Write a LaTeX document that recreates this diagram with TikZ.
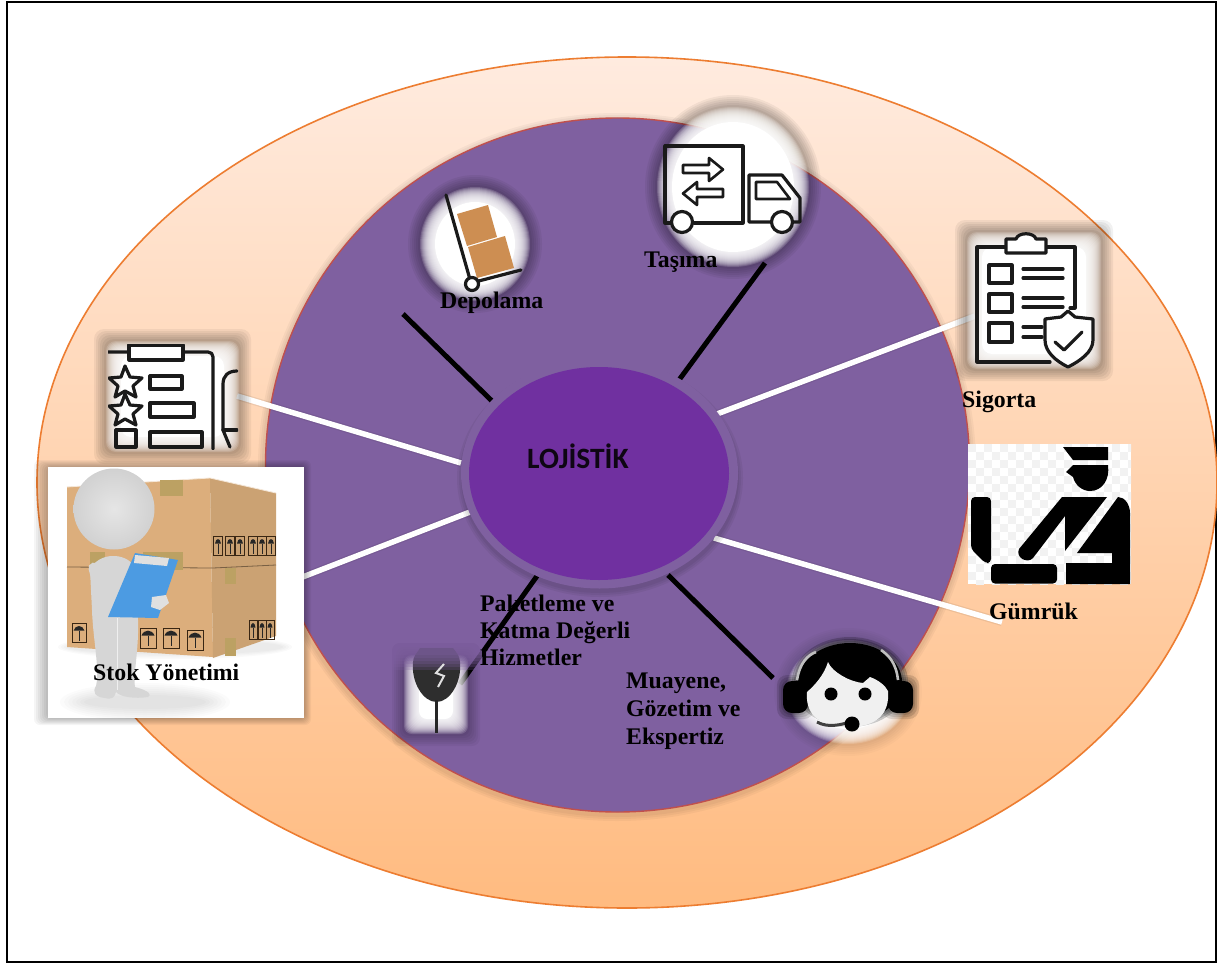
\documentclass[tikz,border=0pt]{standalone}
\usepackage{fontspec}
\setmainfont{Liberation Serif}
\newfontfamily\carl{Carlito}
\usetikzlibrary{shapes.geometric}
\definecolor{outerC}{HTML}{ED7D31}
\definecolor{outerT}{HTML}{FFEBDF}
\definecolor{outerB}{HTML}{FFBB80}
\definecolor{innerF}{HTML}{7F60A0}
\definecolor{innerD}{HTML}{C0504D}
\definecolor{hubF}{HTML}{7030A0}
\definecolor{boxF}{HTML}{DCAE7C}
\definecolor{boxR}{HTML}{CBA273}
\definecolor{tapeC}{HTML}{BCA163}
\definecolor{cargo}{HTML}{CD8E52}
\definecolor{ink}{HTML}{1A1A1A}
\definecolor{bluepad}{HTML}{4C9BE2}
\definecolor{manC}{HTML}{D6D6D6}
\tikzset{
  lab/.style={font=\bfseries\fontsize{23.8}{27}\selectfont,text=black,inner sep=0pt,anchor=base west,align=left},
  blackline/.style={draw=black,line width=5pt},
  whiteline/.style={draw=white,line width=5.5pt},
  shadeline/.style={draw=black,opacity=.07,line width=8pt},
  icon/.style={draw=ink,line width=3.2pt,line join=round,line cap=round},
  thin icon/.style={draw=ink,line width=2.6pt,line join=round},
}
% soft-edged white patches with a dark halo
\newcommand{\softbox}[6]{%
  \foreach \k in {12,10,...,2}{\fill[black,opacity=#5,rounded corners=#6pt] (#1-\k,#2-\k) rectangle (#3+\k,#4+\k);}
  \foreach \k in {0,...,16}{\fill[white,opacity=.16,rounded corners=#6pt] (#1+\k,#2+\k) rectangle (#3-\k,#4-\k);}
  \fill[white,rounded corners=#6pt] (#1+15,#2+15) rectangle (#3-15,#4-15);
}
\newcommand{\softell}[5]{%
  \foreach \k in {12,10,...,2}{\fill[black,opacity=#5] (#1,#2) ellipse [x radius=#3+\k,y radius=#4+\k];}
  \foreach \k in {0,...,16}{\fill[white,opacity=.16] (#1,#2) ellipse [x radius=#3-\k,y radius=#4-\k];}
  \fill[white] (#1,#2) ellipse [x radius=#3-15,y radius=#4-15];
}
% cargo pictograms on the cartons
\newcommand{\picto}[4]{% x y w h
  \draw[black!70!brown,line width=.6pt] (#1-#3/2,#2-#4/2) rectangle (#1+#3/2,#2+#4/2);
  \fill[black!85] (#1-#3/2+1.5,#2-#4/8) .. controls (#1-#3/4,#2-#4/2+1) and (#1+#3/4,#2-#4/2+1) .. (#1+#3/2-1.5,#2-#4/8) -- cycle;
  \draw[black!85,line width=.8pt] (#1,#2-#4/8) -- (#1,#2+#4/2-2);
}
\begin{document}
\begin{tikzpicture}[x=1pt,y=-1pt]
\useasboundingbox (0,0) rectangle (1217,963);
\fill[white] (0,0) rectangle (1217,963);
\draw[black,line width=2pt] (7,2) rectangle (1216,962);

% --- ellipses
\node[ellipse,draw=outerC,line width=1.6pt,top color=outerT,bottom color=outerB,
      minimum width=1180pt,minimum height=851pt,inner sep=0pt] (outerel) at (627,482.5) {};
\foreach \k in {7,5,3}{\fill[black,opacity=.035] (617,467) ellipse [x radius=352+\k,y radius=347+\k];}
\node[ellipse,draw=innerD,line width=1.4pt,fill=innerF,
      minimum width=704pt,minimum height=694pt,inner sep=0pt] (innerel) at (617.5,465) {};

% --- connector ends
\coordinate (d1) at (403,314);  \coordinate (d2) at (492,401);
\coordinate (t1) at (765,263);  \coordinate (t2) at (679,380);
\coordinate (s1) at (975,316);  \coordinate (s2) at (717,414);
\coordinate (r1) at (237,396);  \coordinate (r2) at (461,463);
\coordinate (k1) at (300,578);  \coordinate (k2) at (470,512);
\coordinate (g1) at (1002,622); \coordinate (g2) at (714,538);
\coordinate (m1) at (773,678);  \coordinate (m2) at (668,575);
\coordinate (p1) at (460,684);  \coordinate (p2) at (537,576);

% --- truck
\softell{733}{187}{76}{80}{.05}
\draw[icon] (684,223) -- (665,223) -- (665,146) -- (743,146) -- (743,223) -- (694,223);
\draw[icon] (772,222) -- (749,222) -- (749,175) -- (782,175) -- (800,198) -- (800,222) -- (793,222);
\draw[thin icon] (756,182) -- (777,182) -- (790,199) -- (756,199) -- cycle;
\draw[icon,fill=white] (682,222) circle [radius=10.5];
\draw[icon,fill=white] (782,222) circle [radius=10.5];
\draw[thin icon] (683,165) -- (709,165) -- (709,158) -- (723,169.5) -- (709,181) -- (709,173) -- (683,173) -- cycle;
\draw[thin icon] (723,189) -- (697,189) -- (697,182) -- (683,193.5) -- (697,205) -- (697,197) -- (723,197) -- cycle;

% --- hand truck
\softell{475}{244}{55}{57}{.05}
\fill[cargo] (457,214) -- (488,205) -- (497,237) -- (467,246) -- cycle;
\fill[cargo] (468,247) -- (505,236) -- (514,268) -- (477,278) -- cycle;
\draw[icon] (446,195) -- (471,283) -- (521,270);
\draw[icon,fill=white] (472,284) circle [radius=6.5];

% --- connectors
\path[shadeline] (r1) -- (r2); \path[shadeline] (k1) -- (k2); \path[shadeline] (s1) -- (s2); \path[shadeline] (g1) -- (g2);
\path[whiteline] (r1) -- (r2);
\path[whiteline] (k1) -- (k2);
\path[whiteline] (s1) -- (s2);
\path[whiteline] (g1) -- (g2);
\path[blackline] (d1) -- (d2);
\path[blackline] (t1) -- (t2);
\path[blackline] (m1) -- (m2);
\path[blackline] (p1) -- (p2);

% --- hub
\foreach \k in {6,4,2}{\fill[black,opacity=.05] (600,478) ellipse [x radius=137+\k,y radius=113+\k];}
\node[ellipse,fill=innerF,minimum width=277pt,minimum height=231pt,inner sep=0pt] (ring) at (599.5,473) {};
\node[ellipse,fill=hubF,minimum width=260pt,minimum height=213pt,inner sep=0pt] (hub) at (599,473.5) {};
\node[inner sep=0pt,anchor=base west,font=\carl\bfseries\fontsize{29.5}{32}\selectfont,text=black!88!hubF] (hublab) at (527,468) {LOJİSTİK};

% --- rating clipboard
\softbox{106}{341}{239}{452}{.05}{10}
\begin{scope}
\clip (108,344) rectangle (238,449);
\draw[icon] (108,352) -- (208,352) .. controls (211,352) and (213,354) .. (213,357) -- (213,449);
\draw[icon,fill=white] (129,345) rectangle (183,360);
\draw[icon] (125,366) -- (130,377) -- (142,378) -- (133,386) -- (136,397) -- (125,391) -- (115,397) -- (118,386) -- (109,378) -- (121,377) -- cycle;
\draw[icon] (125,394) -- (130,405) -- (142,406) -- (133,414) -- (136,425) -- (125,419) -- (115,425) -- (118,414) -- (109,406) -- (121,405) -- cycle;
\draw[icon] (150,376) rectangle (182,389);
\draw[icon] (150,403) rectangle (194,417);
\draw[icon] (150,432) rectangle (202,447);
\draw[icon] (116,430) rectangle (136,447);
\draw[icon] (237,371) .. controls (228,371) and (223,376) .. (223,384) -- (223,430) -- (230,447);
\draw[icon] (223,430) -- (237,430);
\end{scope}

% --- stock picture
\foreach \k in {14,12,...,2}{\fill[black,opacity=.04,rounded corners=6pt] (48-\k,467-\k/2) rectangle (304+\k/2,718+\k/2);}
\node[fill=white,minimum width=256pt,minimum height=251pt,inner sep=0pt] (stockpic) at (176,592.5) {};
\begin{scope}
\clip (48,467) rectangle (304,718);
\foreach \k in {30,26,...,6}{\fill[black,opacity=.014] (145,702) ellipse [x radius=55+\k,y radius=4+\k/2];}
\foreach \k in {12,9,6,3}{\fill[black,opacity=.02] (175,647) ellipse [x radius=105+\k,y radius=6+\k/2];}
\fill[boxF] (67,487) -- (210,478) -- (213,657) -- (67,647) -- cycle;
\fill[boxR] (210,478) -- (276,493) -- (276,636) -- (213,658) -- cycle;
\draw[black!45!boxF,line width=.8pt] (67,567) -- (213,568) -- (276,565);
\draw[white!70!boxF,line width=.8pt] (67,487) -- (210,478) -- (276,493);
\fill[tapeC] (160,480) rectangle (183,496);
\fill[tapeC] (225,568) rectangle (236,584);
\fill[tapeC] (225,638) rectangle (236,656);
\fill[tapeC] (143,552) rectangle (183,570);
\fill[tapeC] (90,552) rectangle (105,570);
\foreach \px in {218,230,240,253,262,271}{\picto{\px}{546}{9}{19}}
\foreach \px in {253,262,270}{\picto{\px}{630}{8}{19}}
\picto{79}{633}{14}{19}
\picto{148}{638}{16}{20}
\picto{171}{638}{16}{20}
\picto{195}{640}{16}{20}
% figure
\fill[manC] (90,570) .. controls (98,552) and (125,552) .. (134,566) -- (138,620)
   .. controls (139,650) and (133,675) .. (135,687) .. controls (150,691) and (152,695) .. (148,697)
   .. controls (135,699) and (120,697) .. (116,692) .. controls (115,697) and (112,700) .. (105,698)
   .. controls (95,697) and (92,692) .. (96,686) .. controls (100,670) and (93,640) .. (92,610) -- cycle;
\draw[white!60!manC,line width=1pt] (117,618) -- (117,690);
\draw[manC,line width=11pt,line cap=round] (94,568) -- (98,583) -- (118,577);
\shade[inner color=white!90!black,outer color=black!18] (114,509) circle [radius=40.5];
\fill[bluepad] (135,553) -- (178,560) -- (158,618) -- (108,617) -- cycle;
\fill[black!12] (135,555) -- (169,558) -- (167,566) -- (134,563) -- cycle;
\fill[white!88!black] (152,597) -- (166,595) -- (169,603) -- (160,610) -- (151,607) -- cycle;
\end{scope}

% --- clipboard with shield
\softbox{967}{232}{1101}{369}{.055}{10}
\draw[icon] (1070,308) -- (1075,308) -- (1075,247) -- (977,247) -- (977,362) -- (1050,362);
\draw[icon,fill=white] (1006,253) -- (1006,239) -- (1016,239) .. controls (1018,232) and (1034,232) .. (1036,239) -- (1046,239) -- (1046,253) -- cycle;
\draw[icon] (989,265) rectangle (1012,283);
\draw[icon] (989,294) rectangle (1012,312);
\draw[icon] (989,323) rectangle (1012,342);
\foreach \a/\b in {1063/269,1063/278,1063/298,1063/307,1042/327,1042/337}{\draw[icon] (1023,\b) -- (\a,\b);}
\draw[icon,fill=white] (1068,311) -- (1075,317) -- (1093,319) -- (1093,340) .. controls (1093,352) and (1080,361) .. (1068,367)
   .. controls (1056,361) and (1045,352) .. (1045,340) -- (1045,319) -- (1061,317) -- cycle;
\draw[icon] (1055,342) -- (1064,350) -- (1082,332);

% --- customs picture
\node[fill=white,minimum width=163pt,minimum height=140pt,inner sep=0pt] (gumrukpic) at (1049.5,514) {};
\begin{scope}
\clip (968,444) rectangle (1131,584);
\foreach \i in {0,...,20}{\foreach \j in {0,...,17}{
  \pgfmathtruncatemacro{\prty}{mod(\i+\j,2)}
  \ifnum\prty=0 \fill[black!5] (968+8*\i,444+8*\j) rectangle ++(8,8);\fi
}}
\fill[black] (1063,447) -- (1108,447) -- (1108,460) -- (1073,460) -- cycle;
\fill[black] (1066,472) -- (1073,465) -- (1108,465) .. controls (1110,480) and (1102,491) .. (1090,491) .. controls (1082,491) and (1075,485) .. (1073,477) -- cycle;
\fill[black] (1062,497) -- (1107,497) -- (1065,551) -- (1065,516) -- (1033,558) .. controls (1028,564) and (1015,558) .. (1019,549) -- cycle;
\fill[black] (1118,497) .. controls (1125,497) and (1130,505) .. (1130,513) -- (1130,584) -- (1066,584) -- (1066,563) -- (1112,563) -- (1112,553) -- (1077,553) -- cycle;
\fill[black,rounded corners=4pt] (971,497) -- (991,497) -- (991,563) -- (985,563) -- (971,549) -- cycle;
\fill[black,rounded corners=4pt] (991,564) -- (1057,564) -- (1057,583.5) -- (991,583.5) -- cycle;
\end{scope}

% --- plug
\softbox{404}{655}{468}{734}{.045}{8}
\fill[black!82] (413,662) .. controls (413,656) and (418,652) .. (420,648) -- (453,648) .. controls (456,652) and (460,656) .. (460,662)
  .. controls (462,682) and (450,702) .. (436.5,702) .. controls (423,702) and (411,682) .. (413,662) -- cycle;
\foreach \k in {0,3,...,15}{\fill[innerF,opacity=.24] (390,640) rectangle (482,655+\k);}
\draw[black!85,line width=2.8pt] (436.5,700) -- (436.5,733);
\draw[white!88!black,line width=2pt,line join=miter] (444,664) -- (436,673) -- (444,676) -- (438,687);

% --- headset
\softell{848}{692}{62}{52}{.02}
\foreach \k in {6,4,2}{\fill[black,opacity=.2] (850,682) ellipse [x radius=52+\k,y radius=39+\k];}
\fill[black] (850,682) ellipse [x radius=52,y radius=39];
\foreach \k in {6,4,2}{\fill[black,opacity=.12,rounded corners=10pt] (783-\k,681-\k) rectangle (808+\k,713+\k);\fill[black,opacity=.12,rounded corners=10pt] (888-\k,681-\k) rectangle (913+\k,713+\k);}
\fill[black,rounded corners=9pt] (783,681) rectangle (808,713);
\fill[black,rounded corners=9pt] (888,681) rectangle (913,713);
\draw[white!75!black,line width=2.6pt] (797,680) .. controls (800,662) and (808,655) .. (816,652);
\draw[white!75!black,line width=2.6pt] (898,680) .. controls (896,662) and (888,655) .. (881,650);
\fill[white!94!black] (807,692) .. controls (815,685) and (824,675) .. (828,662) .. controls (832,672) and (850,682) .. (863,683)
  -- (870,677) .. controls (878,680) and (885,685) .. (888,691)
  .. controls (890,715) and (875,727) .. (849,727) .. controls (820,727) and (805,715) .. (807,692) -- cycle;
\fill[black] (831,694) circle [radius=6.5];
\fill[black] (865,694) circle [radius=6.5];
\draw[black!75,line width=3pt] (817,722) .. controls (828,728) and (840,725) .. (850,722);
\fill[black] (852,724) circle [radius=7.5];

% --- labels
\node[lab] (ldepo) at (440,308) {Depolama};
\node[lab] (ltasi) at (644,267) {Taşıma};
\node[lab] (lsig)  at (962,407) {Sigorta};
\node[lab] (lgum)  at (989,619) {Gümrük};
\node[lab] (lstok) at (93,680)  {Stok Yönetimi};
\node[lab] (lpak1) at (480,611) {Paketleme ve};
\node[lab] (lpak2) at (480,638) {Katma Değerli};
\node[lab] (lpak3) at (480,665) {Hizmetler};
\node[lab] (lmu1)  at (626,688) {Muayene,};
\node[lab] (lmu2)  at (626,716) {Gözetim ve};
\node[lab] (lmu3)  at (626,744) {Ekspertiz};
\end{tikzpicture}
\end{document}
